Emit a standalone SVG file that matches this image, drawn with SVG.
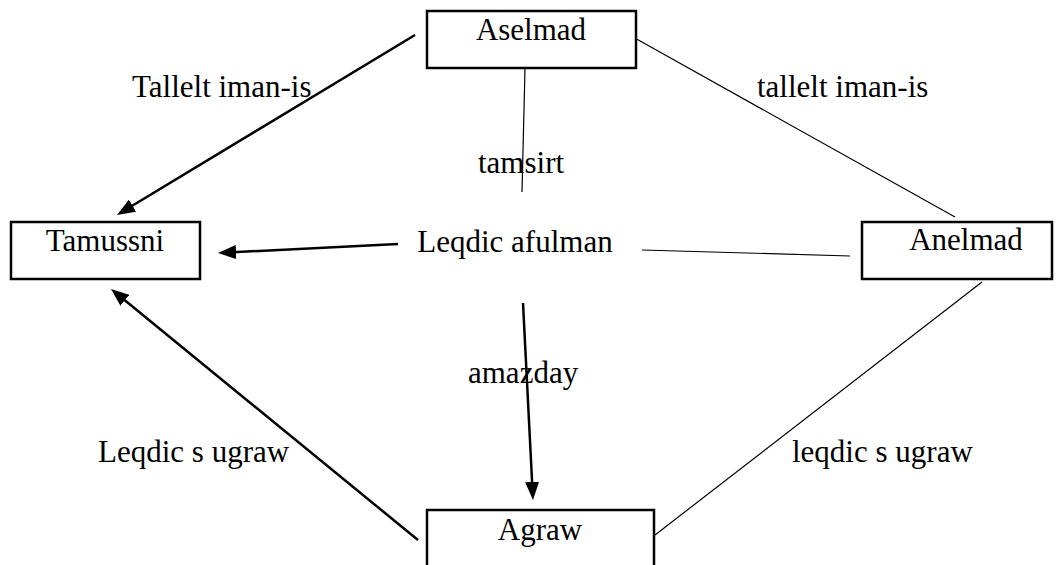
<svg xmlns="http://www.w3.org/2000/svg" width="1059" height="565" viewBox="0 0 1059 565">
<style>
  .box { fill: #fff; stroke: #000; stroke-width: 2.5; }
  .t { font-family: "Liberation Serif", "Times New Roman", serif; font-size: 31px; fill: #000; }
  .c { text-anchor: middle; }
  .thick { stroke: #000; stroke-width: 2.5; fill: none; }
  .thin { stroke: #000; stroke-width: 1.2; fill: none; }
</style>
<defs>
  <marker id="ah" markerUnits="userSpaceOnUse" markerWidth="18" markerHeight="14" refX="8" refY="7" orient="auto">
    <path d="M0,0 L18,7 L0,14 z" fill="#000"/>
  </marker>
</defs>
<rect width="1059" height="565" fill="#fff"/>
<g id="connectors">
  <line class="thick" x1="415" y1="35" x2="125.6" y2="209.8" marker-end="url(#ah)"/>
  <line class="thick" x1="398" y1="244" x2="228" y2="252.5" marker-end="url(#ah)"/>
  <line class="thick" x1="523" y1="303" x2="532.5" y2="490" marker-end="url(#ah)"/>
  <line class="thick" x1="418" y1="540" x2="118.7" y2="295.3" marker-end="url(#ah)"/>
  <line class="thin" x1="633" y1="37" x2="955" y2="217"/>
  <line class="thin" x1="525" y1="68" x2="522" y2="192"/>
  <line class="thin" x1="642" y1="250" x2="850" y2="256"/>
  <line class="thin" x1="655" y1="535" x2="982" y2="282"/>
  <text class="t" x="132" y="97">Tallelt iman-is</text>
  <text class="t" x="757" y="97">tallelt iman-is</text>
  <text class="t" x="478" y="173">tamsirt</text>
  <text class="t" x="468" y="383">amazday</text>
  <text class="t" x="98" y="462">Leqdic s ugraw</text>
  <text class="t" x="792" y="462">leqdic s ugraw</text>
</g>
<g id="aselmad">
  <rect class="box" x="427" y="11" width="209" height="57"/>
  <text class="t c" x="531" y="40">Aselmad</text>
</g>
<g id="tamussni">
  <rect class="box" x="11" y="222" width="189" height="57"/>
  <text class="t c" x="105" y="251">Tamussni</text>
</g>
<g id="anelmad">
  <rect class="box" x="862" y="222" width="190" height="57"/>
  <text class="t c" x="966" y="250">Anelmad</text>
</g>
<g id="leqdic-afulman">
  <text class="t c" x="515" y="252">Leqdic afulman</text>
</g>
<g id="agraw">
  <rect class="box" x="427" y="510" width="227" height="62"/>
  <text class="t c" x="540" y="540">Agraw</text>
</g>
</svg>
